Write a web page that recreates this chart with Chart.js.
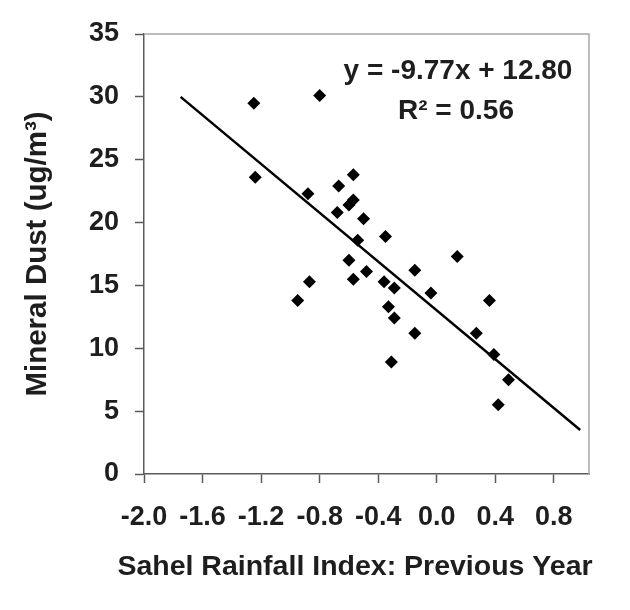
<!DOCTYPE html>
<html>
<head>
<meta charset="utf-8">
<script src="https://cdn.jsdelivr.net/npm/chart.js@4/dist/chart.umd.min.js"></script>
<style>
  html, body { margin: 0; padding: 0; background: #fff; }
  #wrap { width: 630px; height: 610px; }
</style>
</head>
<body>
<div id="wrap"><canvas id="dust" width="630" height="610"></canvas></div>
<script>
// rainfall index (previous year) vs mineral dust
const rainfall = [-1.25, -0.80, -1.24, -0.88, -0.57, -0.67, -0.57, -0.60, -0.68, -0.50,
                  -0.35, -0.54, -0.60, -0.48, -0.57, -0.87, -0.95, -0.36, -0.29, -0.33,
                  -0.29, -0.31, 0.14, -0.15, -0.04, 0.36, -0.15, 0.27, 0.39, 0.49, 0.42];
const dust = [29.5, 30.1, 23.6, 22.3, 23.8, 22.9, 21.8, 21.4, 20.8, 20.3,
              18.9, 18.6, 17.0, 16.1, 15.5, 15.3, 13.8, 15.3, 14.8, 13.3,
              12.4, 8.9, 17.3, 16.2, 14.4, 13.8, 11.2, 11.2, 9.5, 7.5, 5.5];

// fitted line, end points as drawn
const trendX = [-1.75, 0.98];
const trendY = [30.0, 3.5];

const xTicks = [-2.0, -1.6, -1.2, -0.8, -0.4, 0.0, 0.4, 0.8];
const yTicks = [0, 5, 10, 15, 20, 25, 30, 35];

const xTitle = 'Sahel Rainfall Index: Previous Year';
const yTitle = 'Mineral Dust (ug/m\u00b3)';
const eqLine = 'y = -9.77x + 12.80';
const r2Line = 'R\u00b2 = 0.56';

const ink = '#1e1e1e';
const axisGray = '#5a5a5a';
const frameGray = '#a8a8a8';
const fontFamily = '"Liberation Sans", Arial, sans-serif';

// top & right edge of the plot frame (light gray, like the Excel plot area)
const frame = {
    id: 'frame',
    beforeDatasetsDraw(chart) {
        const { ctx, chartArea: a } = chart;
        ctx.save();
        ctx.strokeStyle = frameGray;
        ctx.lineWidth = 1.5;
        ctx.beginPath();
        ctx.moveTo(a.left, a.top);
        ctx.lineTo(a.right, a.top);
        ctx.lineTo(a.right, a.bottom);
        ctx.stroke();
        ctx.restore();
    }
};

// regression label + x title (the title is wider than the plot, so the
// scale's own title would get squeezed)
const labels = {
    id: 'labels',
    afterDatasetsDraw(chart) {
        const { ctx, chartArea: a } = chart;
        ctx.save();
        ctx.fillStyle = ink;
        ctx.textAlign = 'center';
        ctx.textBaseline = 'middle';
        ctx.font = 'bold 28px ' + fontFamily;
        ctx.fillText(eqLine, a.left + 314, a.top + 37);
        ctx.fillText(r2Line, a.left + 312, a.top + 77);
        ctx.font = 'bold 28.5px ' + fontFamily;
        ctx.fillText(xTitle, 355, 567);
        ctx.restore();
    }
};

const tickFont = { family: fontFamily, size: 27, weight: 'bold' };
const titleFont = { family: fontFamily, size: 29.5, weight: 'bold' };

new Chart(document.getElementById('dust'), {
    type: 'scatter',
    data: {
        datasets: [{
            label: 'dust',
            data: rainfall.map((x, i) => ({ x: x, y: dust[i] })),
            pointStyle: 'rectRot',
            pointRadius: 6.5,
            backgroundColor: '#000',
            borderColor: '#000',
            borderWidth: 0
        }, {
            type: 'line',
            label: 'fit',
            data: trendX.map((x, i) => ({ x: x, y: trendY[i] })),
            borderColor: '#000',
            borderWidth: 2.5,
            pointRadius: 0,
            fill: false
        }]
    },
    options: {
        responsive: false,
        animation: false,
        layout: { padding: { top: 34, right: 41, left: 0, bottom: 0 } },
        plugins: {
            legend: { display: false },
            tooltip: { enabled: false }
        },
        scales: {
            x: {
                type: 'linear',
                min: -2.0,
                max: 1.04,
                afterBuildTicks: (s) => { s.ticks = xTicks.map(v => ({ value: v })); },
                afterFit: (s) => { s.height = 136; },
                border: { color: axisGray, width: 1.5 },
                grid: { drawOnChartArea: false, tickLength: 9, tickColor: axisGray, tickWidth: 1.5 },
                ticks: {
                    color: ink,
                    font: tickFont,
                    padding: 18,
                    maxRotation: 0,
                    callback: (v) => v.toFixed(1)
                },
                title: { display: false, text: xTitle }
            },
            y: {
                min: 0,
                max: 35,
                afterBuildTicks: (s) => { s.ticks = yTicks.map(v => ({ value: v })); },
                afterFit: (s) => { s.width = 144; },
                border: { color: axisGray, width: 1.5 },
                grid: { drawOnChartArea: false, tickLength: 9, tickColor: axisGray, tickWidth: 1.5 },
                ticks: {
                    color: ink,
                    font: tickFont,
                    padding: 16
                },
                title: {
                    display: true,
                    text: yTitle,
                    color: ink,
                    font: titleFont,
                    padding: { top: 20, bottom: 0 }
                }
            }
        }
    },
    plugins: [frame, labels]
});
</script>
</body>
</html>
